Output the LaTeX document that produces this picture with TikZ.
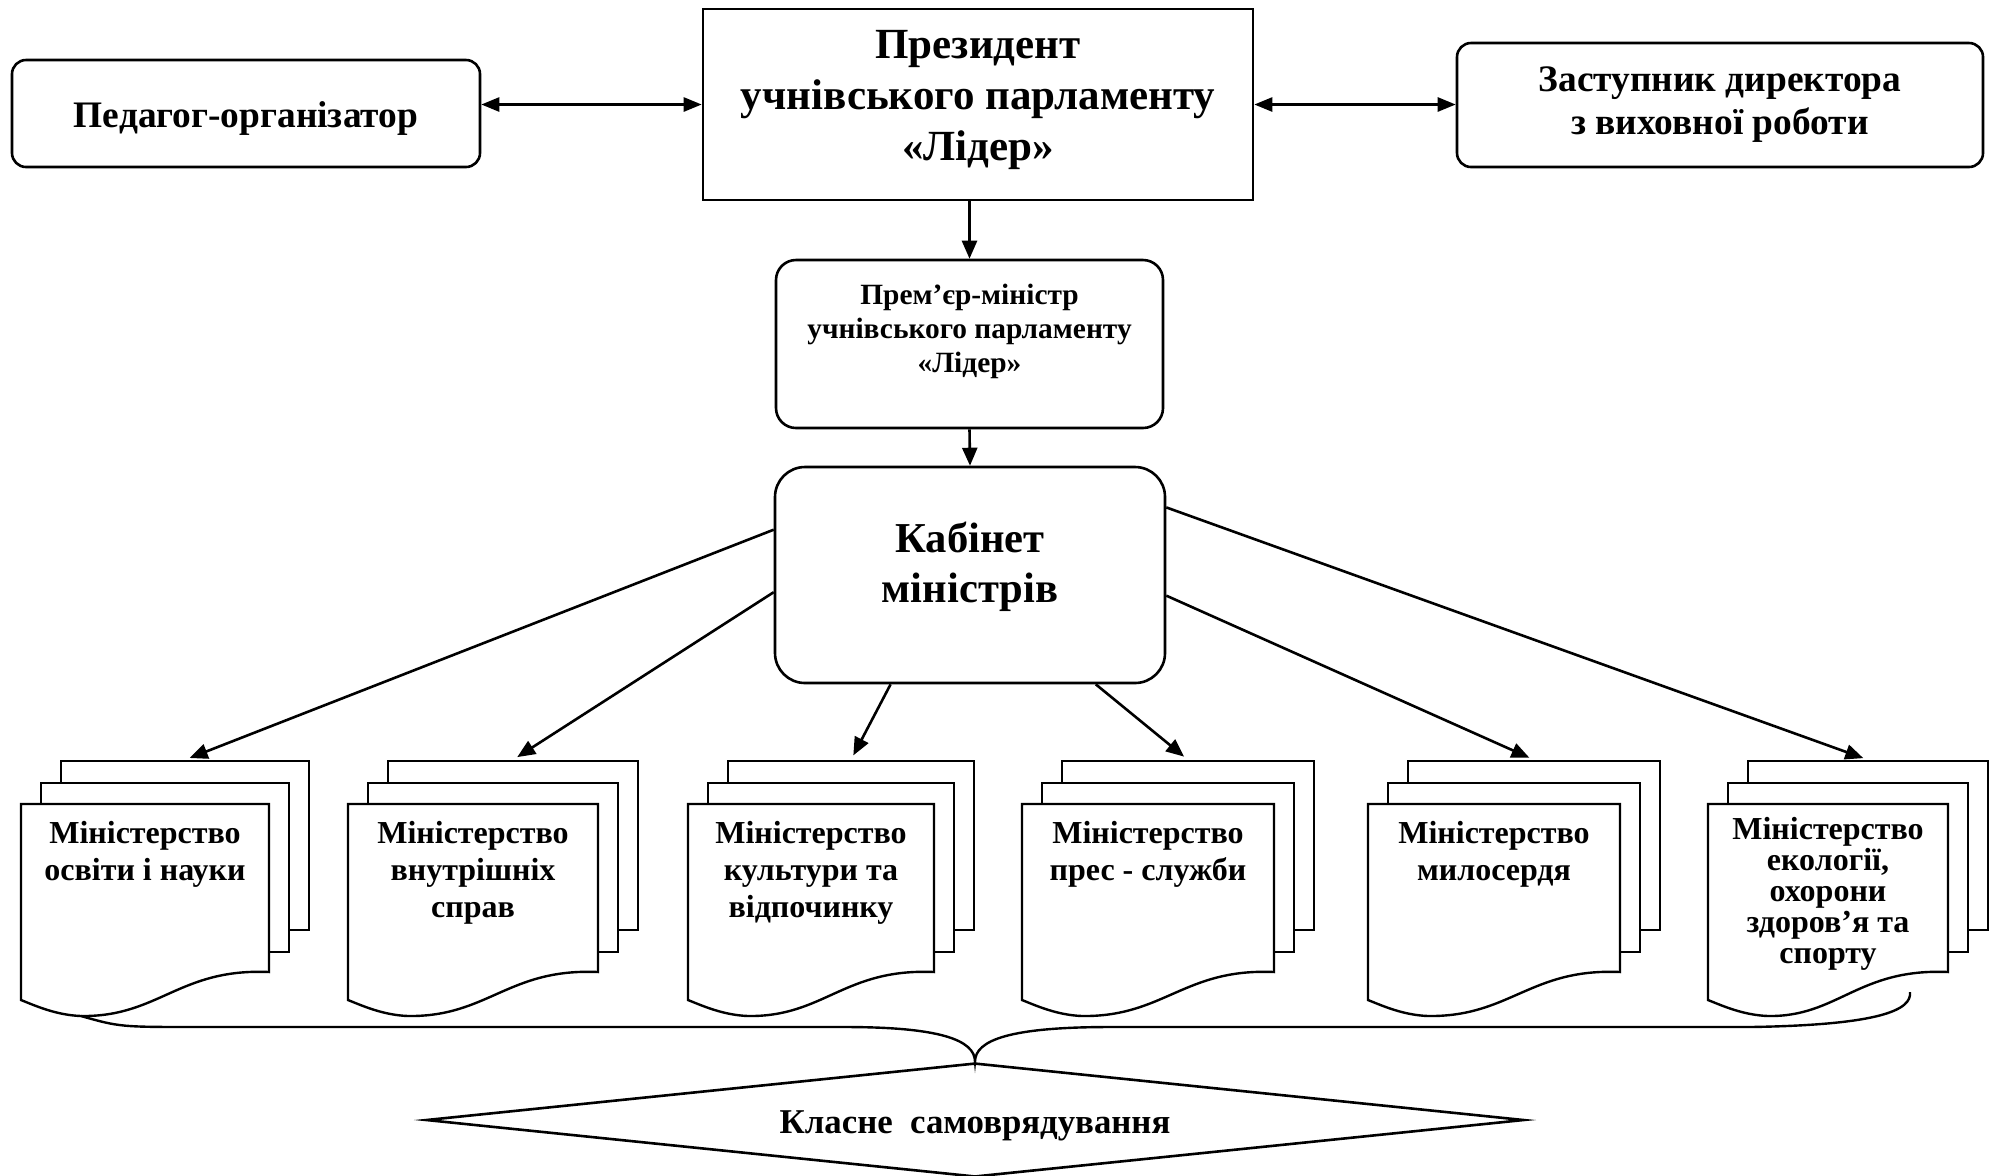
\documentclass[tikz,border=0pt]{standalone}
\usepackage{fontspec}
\setmainfont{Liberation Serif}
\usetikzlibrary{arrows.meta, shapes.geometric}

\tikzset{
    box/.style={draw, line width=1.3pt, align=center, inner sep=0pt},
    sheet/.style={draw, line width=1.2pt, fill=white},
    mtext/.style={align=center, inner sep=0pt, anchor=north, font=\bfseries\fontsize{16pt}{18.5pt}\selectfont},
    arr/.style={line width=1.3pt, -{Triangle[length=9pt, width=7.5pt]}},
    dbl/.style={line width=1.3pt, {Triangle[length=9pt, width=7pt]}-{Triangle[length=9pt, width=7pt]}},
}

\begin{document}
\begin{tikzpicture}[x=0.5pt, y=-0.5pt]
        \path[fill=white, use as bounding box] (0,0) rectangle (1995,1175);

        \node[box, rounded corners=7pt, minimum width=234pt, minimum height=53.5pt, text height=18pt,
              font=\bfseries\fontsize{18.7pt}{21.5pt}\selectfont] (ped) at (246,113.5) {Педагог-організатор};
        \node[box, minimum width=275pt, minimum height=95.5pt, text depth=9pt,
              font=\bfseries\fontsize{21.5pt}{25.5pt}\selectfont] (pres) at (978,104.5) {Президент\\учнівського парламенту\\«Лідер»};
        \node[box, rounded corners=7pt, minimum width=263pt, minimum height=62pt,
              font=\bfseries\fontsize{18.7pt}{21.5pt}\selectfont] (zast) at (1720,105) {Заступник директора\\з виховної роботи};
        \node[box, rounded corners=10pt, minimum width=193.5pt, minimum height=84pt, text depth=16pt,
              font=\bfseries\fontsize{14.7pt}{17pt}\selectfont] (prem) at (969.5,344) {Прем’єр-міністр\\учнівського парламенту\\«Лідер»};
        \node[box, rounded corners=15pt, minimum width=195pt, minimum height=108pt, text depth=12.5pt,
              font=\bfseries\fontsize{21.3pt}{25pt}\selectfont] (kab) at (970,575) {Кабінет\\міністрів};

        \draw[dbl] (pres.west -| ped.east) -- (pres.west);
        \draw[dbl] (pres.east) -- (pres.east -| zast.west);
        \draw[arr] (pres.south -| prem.north) -- (prem.north);
        \draw[arr] (prem.south) -- (kab.north);

        \node[sheet, minimum width=124pt, minimum height=84.5pt] (b1) at (185,845.5) {};
        \draw[sheet] (41,783) rectangle (289,952);
        \draw[sheet] (21,804) -- (269,804) -- (269,972) .. controls (179,968) and (159,1017) .. (81,1016) .. controls (56,1015) and (36,1006) .. (21,1000) -- cycle;
        \node[mtext] (m1) at (145,821) {Міністерство\\освіти і науки};

        \node[sheet, minimum width=125pt, minimum height=84.5pt] (b2) at (513,845.5) {};
        \draw[sheet] (368,783) rectangle (618,952);
        \draw[sheet] (348,804) -- (598,804) -- (598,972) .. controls (508,968) and (488,1017) .. (408,1016) .. controls (383,1015) and (363,1006) .. (348,1000) -- cycle;
        \node[mtext] (m2) at (473,821) {Міністерство\\внутрішніх\\справ};

        \node[sheet, minimum width=123pt, minimum height=84.5pt] (b3) at (851,845.5) {};
        \draw[sheet] (708,783) rectangle (954,952);
        \draw[sheet] (688,804) -- (934,804) -- (934,972) .. controls (844,968) and (824,1017) .. (748,1016) .. controls (723,1015) and (703,1006) .. (688,1000) -- cycle;
        \node[mtext] (m3) at (811,821) {Міністерство\\культури та\\відпочинку};

        \node[sheet, minimum width=126pt, minimum height=84.5pt] (b4) at (1188,845.5) {};
        \draw[sheet] (1042,783) rectangle (1294,952);
        \draw[sheet] (1022,804) -- (1274,804) -- (1274,972) .. controls (1184,968) and (1164,1017) .. (1082,1016) .. controls (1057,1015) and (1037,1006) .. (1022,1000) -- cycle;
        \node[mtext] (m4) at (1148,821) {Міністерство\\прес - служби};

        \node[sheet, minimum width=126pt, minimum height=84.5pt] (b5) at (1534,845.5) {};
        \draw[sheet] (1388,783) rectangle (1640,952);
        \draw[sheet] (1368,804) -- (1620,804) -- (1620,972) .. controls (1530,968) and (1510,1017) .. (1428,1016) .. controls (1403,1015) and (1383,1006) .. (1368,1000) -- cycle;
        \node[mtext] (m5) at (1494,821) {Міністерство\\милосердя};

        \node[sheet, minimum width=120pt, minimum height=84.5pt] (b6) at (1868,845.5) {};
        \draw[sheet] (1728,783) rectangle (1968,952);
        \draw[sheet] (1708,804) -- (1948,804) -- (1948,972) .. controls (1858,968) and (1838,1017) .. (1768,1016) .. controls (1743,1015) and (1723,1006) .. (1708,1000) -- cycle;
        \node[mtext, font=\bfseries\fontsize{16pt}{15.5pt}\selectfont] (m6) at (1828,817) {Міністерство\\екології,\\охорони\\здоров’я та\\спорту};

        \draw[arr, shorten >=2.5pt] (kab.167) -- (b1.north);
        \draw[arr, shorten >=2.5pt] (kab.185) -- (b2.north);
        \draw[arr, shorten >=2.5pt] (kab.234) -- (b3.north);
        \draw[arr, shorten >=2.5pt] (kab.319) -- (b4.north);
        \draw[arr, shorten >=2.5pt] (kab.354) -- (b5.north);
        \draw[arr, shorten >=2.5pt] (kab.19) -- (b6.north);

        \node[box, diamond, aspect=9.71, minimum width=549pt, minimum height=57pt, text height=17pt,
              font=\bfseries\fontsize{17.4pt}{19pt}\selectfont] (klas) at (975,1120) {Класне\ \ самоврядування};

        \draw[line width=1.2pt] (81,1016) .. controls (120,1027) .. (200,1027) -- (845,1027)
            .. controls (940,1027) and (975,1040) .. (klas.north)
            .. controls (975,1040) and (1010,1027) .. (1110,1027) -- (1750,1027)
            .. controls (1880,1025) and (1912,1010) .. (1910,992);
\end{tikzpicture}
\end{document}
